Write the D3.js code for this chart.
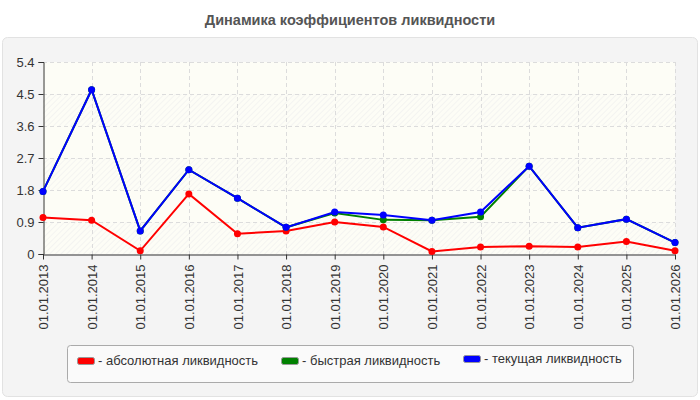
<!DOCTYPE html>
<html>
<head>
<meta charset="utf-8">
<script src="https://cdn.jsdelivr.net/npm/d3@7"></script>
<style>
  body { margin: 0; background: #fff; }
  text { font-family: "Liberation Sans", Arial, sans-serif; }
</style>
</head>
<body>
<div id="chart"></div>
<script>
// dates along the x axis
var dates = ["01.01.2013", "01.01.2014", "01.01.2015", "01.01.2016", "01.01.2017",
    "01.01.2018", "01.01.2019", "01.01.2020", "01.01.2021", "01.01.2022",
    "01.01.2023", "01.01.2024", "01.01.2025", "01.01.2026"];

var absLiq = [1.03, 0.95, 0.09, 1.69, 0.57, 0.65, 0.9, 0.76, 0.07, 0.2, 0.22, 0.2, 0.35, 0.09];
var quickLiq = [1.76, 4.62, 0.65, 2.37, 1.57, 0.75, 1.15, 0.96, 0.95, 1.05, 2.47, 0.74, 0.98, 0.32];
var currentLiq = [1.76, 4.62, 0.65, 2.37, 1.57, 0.75, 1.18, 1.1, 0.95, 1.18, 2.47, 0.74, 0.98, 0.32];

var yTicks = [0, 0.9, 1.8, 2.7, 3.6, 4.5, 5.4];

var seriesNames = ["- абсолютная ликвидность", "- быстрая ликвидность", "- текущая ликвидность"];
var seriesColors = ["#ff0000", "#008000", "#0000ff"];

var width = 700, height = 400;
var margin = {top: 62, left: 43, right: 25, bottom: 146};
var plotW = width - margin.left - margin.right;
var plotH = height - margin.top - margin.bottom;

var svg = d3.select("#chart").append("svg")
    .attr("width", width)
    .attr("height", height);

var defs = svg.append("defs");
var hatch = defs.append("pattern")
    .attr("id", "hatch")
    .attr("width", 4).attr("height", 4)
    .attr("patternUnits", "userSpaceOnUse")
    .attr("patternTransform", "rotate(45)");
hatch.append("rect").attr("width", 4).attr("height", 4).attr("fill", "#fdfdf6");
hatch.append("line").attr("x1", 0).attr("y1", 0).attr("x2", 0).attr("y2", 4)
    .attr("stroke", "#ececec").attr("stroke-width", 1);

// title
svg.append("text")
    .attr("x", width / 2).attr("y", 25)
    .attr("text-anchor", "middle")
    .attr("font-size", 14.5).attr("font-weight", "bold")
    .attr("fill", "#555")
    .text("Динамика коэффициентов ликвидности");

// panel
svg.append("rect")
    .attr("x", 2.5).attr("y", 37.5).attr("width", 695).attr("height", 359)
    .attr("rx", 5)
    .attr("fill", "#f4f4f4").attr("stroke", "#e2e2e2");

var x = d3.scalePoint().domain(dates).range([0, plotW]);
var y = d3.scaleLinear().domain([0, 5.4]).range([plotH, 0]);

var g = svg.append("g").attr("transform", "translate(" + margin.left + "," + margin.top + ")");

// plot background bands
g.selectAll(".band")
    .data(yTicks.slice(0, -1))
    .enter().append("rect")
    .attr("x", 0).attr("width", plotW)
    .attr("y", function (d, i) { return y(yTicks[i + 1]); })
    .attr("height", function (d, i) { return y(d) - y(yTicks[i + 1]); })
    .attr("fill", function (d, i) { return i % 2 ? "#fdfdf6" : "url(#hatch)"; });

// grid
g.selectAll(".hgrid")
    .data(yTicks.slice(1))
    .enter().append("line")
    .attr("x1", 0).attr("x2", plotW)
    .attr("y1", function (d) { return y(d) + 0.5; })
    .attr("y2", function (d) { return y(d) + 0.5; })
    .attr("stroke", "#dcdcdc").attr("stroke-dasharray", "4,3");

g.selectAll(".vgrid")
    .data(dates.slice(1))
    .enter().append("line")
    .attr("x1", function (d) { return Math.round(x(d)) + 0.5; })
    .attr("x2", function (d) { return Math.round(x(d)) + 0.5; })
    .attr("y1", 0).attr("y2", plotH)
    .attr("stroke", "#dcdcdc").attr("stroke-dasharray", "4,3");

// axes
var yAxis = g.append("g")
    .attr("transform", "translate(0.5,0)")
    .call(d3.axisLeft(y).tickValues(yTicks).tickSize(5).tickPadding(4)
        .tickFormat(function (d) { return d === 0 ? "0" : d3.format(".1f")(d); }));
yAxis.selectAll("text").attr("font-size", 13).attr("fill", "#333")
    .style("font-family", "'Liberation Sans', Arial, sans-serif");
yAxis.selectAll("line, path").attr("stroke", "#333");

var xAxis = g.append("g")
    .attr("transform", "translate(0," + (plotH + 0.5) + ")")
    .call(d3.axisBottom(x).tickSize(5).tickSizeOuter(0));
xAxis.selectAll("text")
    .attr("font-size", 13).attr("fill", "#333")
    .style("font-family", "'Liberation Sans', Arial, sans-serif")
    .style("text-anchor", "end")
    .attr("transform", "rotate(-90)")
    .attr("x", -10).attr("y", 0).attr("dy", "0.35em");
xAxis.selectAll("line, path").attr("stroke", "#333");

// lines
var line = d3.line()
    .x(function (d, i) { return x(dates[i]); })
    .y(function (d) { return y(d); });

var allSeries = [absLiq, quickLiq, currentLiq];
allSeries.forEach(function (vals, k) {
    var s = g.append("g");
    s.append("path")
        .datum(vals)
        .attr("fill", "none")
        .attr("stroke", seriesColors[k])
        .attr("stroke-width", 2)
        .attr("d", line);
    s.selectAll("circle")
        .data(vals)
        .enter().append("circle")
        .attr("cx", function (d, i) { return x(dates[i]); })
        .attr("cy", function (d) { return y(d); })
        .attr("r", 3.5)
        .attr("fill", seriesColors[k]);
});

// legend
var legend = svg.append("g");
legend.append("rect")
    .attr("x", 67.5).attr("y", 345.5).attr("width", 566).attr("height", 37)
    .attr("rx", 3)
    .attr("fill", "#fafafa").attr("stroke", "#aaa");

var legendX = [77, 281, 463];
var legendY = [357, 357, 355];
seriesNames.forEach(function (name, k) {
    legend.append("rect")
        .attr("x", legendX[k] + 0.5).attr("y", legendY[k] + 0.5)
        .attr("width", 17).attr("height", 7)
        .attr("rx", 2)
        .attr("fill", seriesColors[k]).attr("stroke", "#999");
    legend.append("text")
        .attr("x", legendX[k] + 21).attr("y", legendY[k] + 8)
        .attr("font-size", 13).attr("fill", "#333")
        .text(name);
});
</script>
</body>
</html>
